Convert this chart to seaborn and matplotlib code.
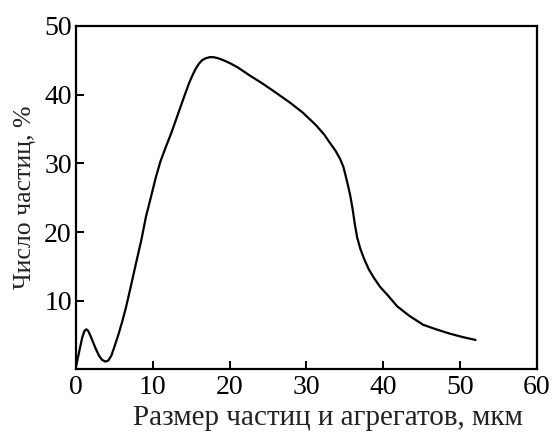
import numpy as np
import matplotlib
matplotlib.use("Agg")
import matplotlib.pyplot as plt
import seaborn as sns
import pandas as pd

# particle size, um
size_um = [0.0, 0.4, 0.8, 1.1, 1.35, 1.6, 2.0, 2.5, 3.0, 3.4, 3.8, 4.2, 4.6,
           5.0, 5.5, 6.0, 6.5, 7.2, 7.8, 8.5, 9.1, 9.8, 10.4, 11.0, 11.7,
           12.4, 13.0, 13.7, 14.3, 14.8, 15.2, 15.6, 16.0, 16.4, 16.9, 17.4,
           17.9, 18.5, 19.2, 20.0, 21.0, 22.6, 24.3, 26.0, 27.9, 29.5, 31.2,
           32.3, 33.1, 33.8, 34.4, 34.8, 35.1, 35.4, 35.7, 36.0, 36.3, 36.6,
           37.0, 37.5, 38.1, 38.8, 39.6, 40.5, 41.8, 43.4, 45.2, 47.0, 48.7,
           50.4, 52.0]
# share of particles, %
share_pct = [0.4, 2.5, 4.6, 5.6, 5.85, 5.6, 4.6, 3.2, 2.0, 1.4, 1.15, 1.3, 2.0,
             3.3, 5.0, 6.9, 9.0, 12.4, 15.4, 18.8, 22.2, 25.3, 28.0, 30.3,
             32.4, 34.4, 36.3, 38.5, 40.4, 41.9, 42.9, 43.8, 44.5, 45.0, 45.3,
             45.45, 45.45, 45.3, 45.0, 44.6, 44.0, 42.8, 41.6, 40.3, 38.8,
             37.4, 35.6, 34.2, 32.9, 31.8, 30.6, 29.5, 28.2, 26.8, 25.3, 23.4,
             21.1, 19.2, 17.6, 16.1, 14.6, 13.3, 12.0, 10.9, 9.2, 7.8, 6.5,
             5.8, 5.2, 4.7, 4.3]

df = pd.DataFrame({"size": size_um, "share": share_pct})

sns.set_theme(style="ticks")
plt.rcParams["font.family"] = ["Liberation Serif", "DejaVu Serif"]

fig = plt.figure(figsize=(5.53, 4.32), dpi=100)
ax = fig.add_axes([0.1374, 0.1447, 0.8336, 0.7953])

sns.lineplot(data=df, x="size", y="share", color="black", linewidth=1.6, ax=ax)

ax.set_xlim(0, 60)
ax.set_ylim(0, 50)
ax.set_xticks([0, 10, 20, 30, 40, 50, 60])
ax.set_yticks([10, 20, 30, 40, 50])
ax.tick_params(axis="both", direction="in", length=6, width=1.4,
               labelsize=20, colors="black", pad=3)
ax.tick_params(axis="x", pad=4)
for side in ["top", "right", "bottom", "left"]:
    ax.spines[side].set_visible(True)
    ax.spines[side].set_linewidth(1.6)
    ax.spines[side].set_color("black")

ax.set_xlabel("Размер частиц и агрегатов, мкм", fontsize=21, color="#222222")
ax.xaxis.set_label_coords(0.547, -0.103)
ax.set_ylabel("Число частиц, %", fontsize=18.5, labelpad=6, color="#222222")

fig.savefig("out.png", dpi=100)
